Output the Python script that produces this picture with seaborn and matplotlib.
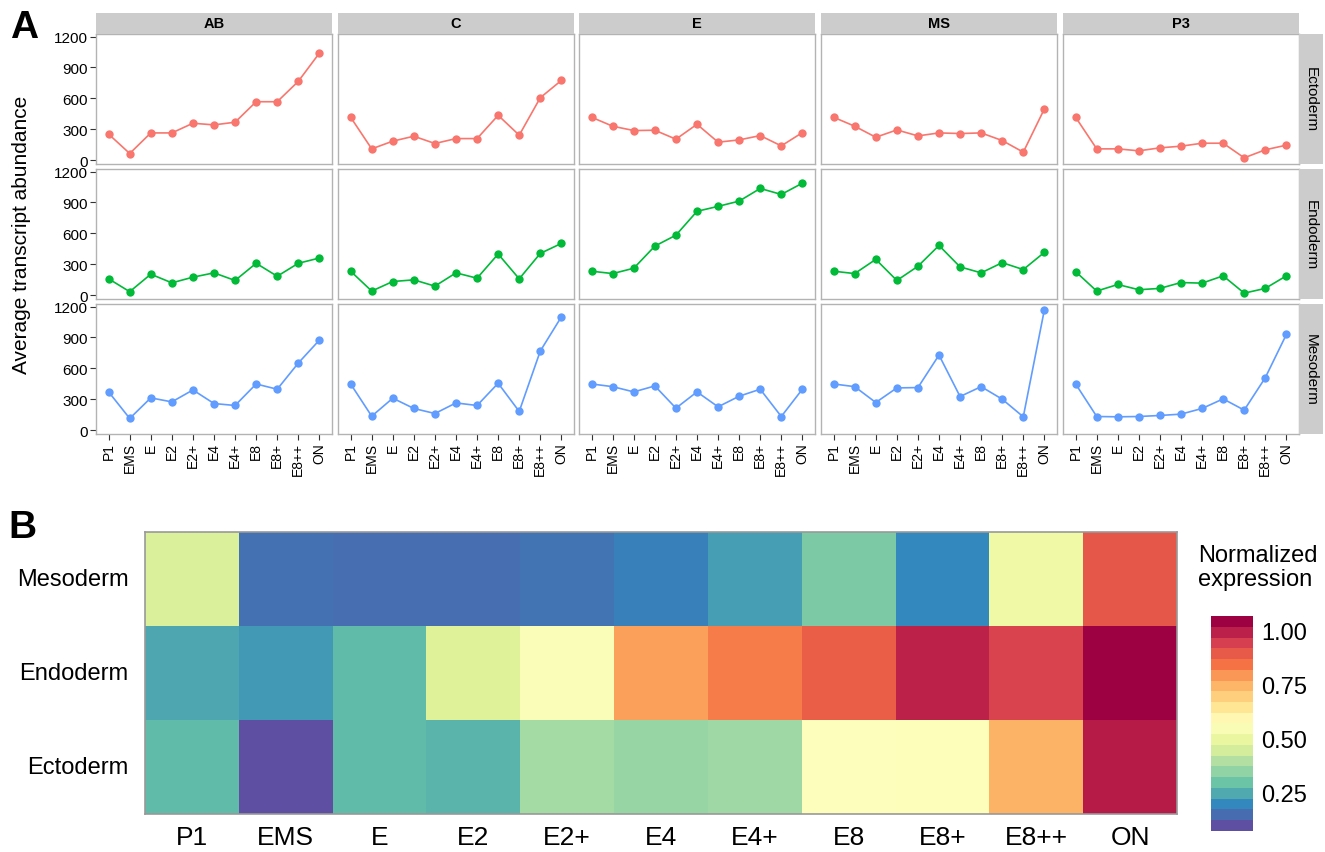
import numpy as np
import pandas as pd
import seaborn as sns
import matplotlib
matplotlib.use("Agg")
import matplotlib.pyplot as plt
from matplotlib.colors import ListedColormap, Normalize
from matplotlib.cm import ScalarMappable

sns.set_style("white")
plt.rcParams['font.family'] = ['Liberation Sans', 'DejaVu Sans']
plt.rcParams['text.color'] = 'black'
plt.rcParams['xtick.labelcolor'] = 'black'
plt.rcParams['ytick.labelcolor'] = 'black'

stages = ['P1', 'EMS', 'E', 'E2', 'E2+', 'E4', 'E4+', 'E8', 'E8+', 'E8++', 'ON']
lineages = ['AB', 'C', 'E', 'MS', 'P3']
layers = ['Ectoderm', 'Endoderm', 'Mesoderm']
layer_colors = {'Ectoderm': '#F8766D', 'Endoderm': '#00BA38', 'Mesoderm': '#619CFF'}

# average transcript abundance
ecto_AB = [252, 64, 264, 264, 358, 342, 368, 567, 567, 765, 1039]
ecto_C = [416, 109, 184, 232, 161, 209, 209, 435, 242, 606, 774]
ecto_E = [416, 329, 287, 290, 203, 348, 174, 196, 238, 138, 267]
ecto_MS = [416, 329, 222, 293, 235, 264, 258, 264, 190, 77, 497]
ecto_P3 = [416, 109, 109, 90, 119, 135, 164, 164, 22, 100, 145]

endo_AB = [158, 33, 203, 119, 174, 216, 142, 309, 183, 309, 360]
endo_C = [232, 39, 132, 148, 87, 216, 164, 399, 158, 405, 502]
endo_E = [232, 209, 261, 476, 582, 814, 862, 913, 1036, 978, 1087]
endo_MS = [232, 209, 347, 142, 280, 482, 274, 216, 315, 248, 415]
endo_P3 = [228, 39, 103, 52, 65, 122, 116, 187, 19, 65, 187]

meso_AB = [371, 113, 313, 274, 390, 258, 239, 448, 397, 651, 874]
meso_C = [448, 135, 310, 210, 161, 264, 239, 455, 181, 768, 1100]
meso_E = [448, 422, 371, 429, 213, 371, 226, 329, 397, 132, 397]
meso_MS = [448, 422, 268, 410, 413, 729, 326, 422, 300, 129, 1168]
meso_P3 = [448, 132, 129, 132, 142, 155, 210, 303, 194, 509, 929]

abundance = {
    'Ectoderm': [ecto_AB, ecto_C, ecto_E, ecto_MS, ecto_P3],
    'Endoderm': [endo_AB, endo_C, endo_E, endo_MS, endo_P3],
    'Mesoderm': [meso_AB, meso_C, meso_E, meso_MS, meso_P3],
}

# normalized expression, panel B
heat_rows = ['Mesoderm', 'Endoderm', 'Ectoderm']
norm_meso = [0.452, 0.134, 0.129, 0.130, 0.139, 0.163, 0.213, 0.306, 0.178, 0.505, 0.914]
norm_endo = [0.228, 0.206, 0.263, 0.462, 0.551, 0.790, 0.844, 0.899, 1.013, 0.959, 1.068]
norm_ecto = [0.263, 0.074, 0.263, 0.250, 0.362, 0.342, 0.357, 0.561, 0.558, 0.760, 1.023]

W, H = 1325, 853
fig = plt.figure(figsize=(W / 100, H / 100), dpi=100)


def px_axes(x0, y0, x1, y1):
    return fig.add_axes([x0 / W, 1 - y1 / H, (x1 - x0) / W, (y1 - y0) / H])


col_x = [96, 338, 579, 821, 1063]
pw = 236
row_y = [35, 170, 305]
ph = 130
frame_col = '#B3B3B3'
strip_col = '#CCCCCC'

# Panel A: faceted line plots
for r, layer in enumerate(layers):
    for c, lin in enumerate(lineages):
        ax = px_axes(col_x[c], row_y[r], col_x[c] + pw, row_y[r] + ph)
        df = pd.DataFrame({'x': np.arange(len(stages)), 'y': abundance[layer][c]})
        sns.lineplot(data=df, x='x', y='y', ax=ax, color=layer_colors[layer],
                     marker='o', markersize=6, markeredgewidth=0, linewidth=1.2)
        ax.set_xlim(-0.6, 10.6)
        ax.set_ylim(-38, 1225)
        ax.set_xlabel('')
        ax.set_ylabel('')
        for s in ax.spines.values():
            s.set_color(frame_col)
            s.set_linewidth(1.0)
        ax.set_xticks(np.arange(len(stages)))
        ax.set_yticks([0, 300, 600, 900, 1200])
        ax.tick_params(axis='both', direction='out', length=4, width=0.8, color='#333333')
        if c == 0:
            ax.tick_params(axis='y', left=True, labelsize=11, pad=2)
        else:
            ax.tick_params(axis='y', left=False, labelleft=False)
        if r == 2:
            ax.set_xticklabels(stages, rotation=90, fontsize=10)
            ax.tick_params(axis='x', bottom=True, pad=2)
        else:
            ax.tick_params(axis='x', bottom=False, labelbottom=False)

# strips
for c, lin in enumerate(lineages):
    sax = px_axes(col_x[c], 14, col_x[c] + pw, 35)
    sax.set_facecolor(strip_col)
    sax.set_xticks([])
    sax.set_yticks([])
    for s in sax.spines.values():
        s.set_visible(False)
    sax.text(0.5, 0.5, lin, ha='center', va='center', fontsize=10.5, fontweight='bold')

for r, layer in enumerate(layers):
    sax = px_axes(1299, row_y[r], 1323, row_y[r] + ph)
    sax.set_facecolor(strip_col)
    sax.set_xticks([])
    sax.set_yticks([])
    for s in sax.spines.values():
        s.set_visible(False)
    sax.text(0.5, 0.5, layer, ha='center', va='center', rotation=270, fontsize=11)

fig.text(22 / W, 1 - 235 / H, 'Average transcript abundance', rotation=90,
         ha='center', va='center', fontsize=15)
fig.text(10 / W, 1 - 28 / H, 'A', fontsize=28, fontweight='bold', ha='left', va='center')
fig.text(8 / W, 1 - 528 / H, 'B', fontsize=28, fontweight='bold', ha='left', va='center')

# Panel B: heatmap
heat = pd.DataFrame([norm_meso, norm_endo, norm_ecto], index=heat_rows, columns=stages)
vmin, vmax = 0.074, 1.068
hax = px_axes(145, 533, 1177, 815)
sns.heatmap(heat, cmap='Spectral_r', vmin=vmin, vmax=vmax, cbar=False, ax=hax,
            linewidths=0)
for s in hax.spines.values():
    s.set_visible(True)
    s.set_color('#999999')
    s.set_linewidth(1.2)
hax.tick_params(axis='x', labelsize=19, length=0, pad=8, rotation=0)
hax.tick_params(axis='y', labelsize=17, length=0, pad=12, rotation=0)
hax.set_xlabel('')
hax.set_ylabel('')

# binned colorbar
cax = px_axes(1211, 617, 1253, 832)
bins = ListedColormap(plt.get_cmap('Spectral_r')(np.linspace(0, 1, 20)))
cb = fig.colorbar(ScalarMappable(norm=Normalize(vmin, vmax), cmap=bins), cax=cax)
cb.outline.set_visible(False)
cb.set_ticks([0.25, 0.5, 0.75, 1.0])
cb.set_ticklabels(['0.25', '0.50', '0.75', '1.00'])
cax.tick_params(axis='y', left=True, right=True, direction='in', length=4,
                width=1, color='white', labelsize=17, pad=6)
fig.text(1198 / W, 1 - 568 / H, 'Normalized\nexpression', fontsize=17,
         ha='left', va='center', linespacing=1.1)

fig.savefig('out.png', dpi=100)
